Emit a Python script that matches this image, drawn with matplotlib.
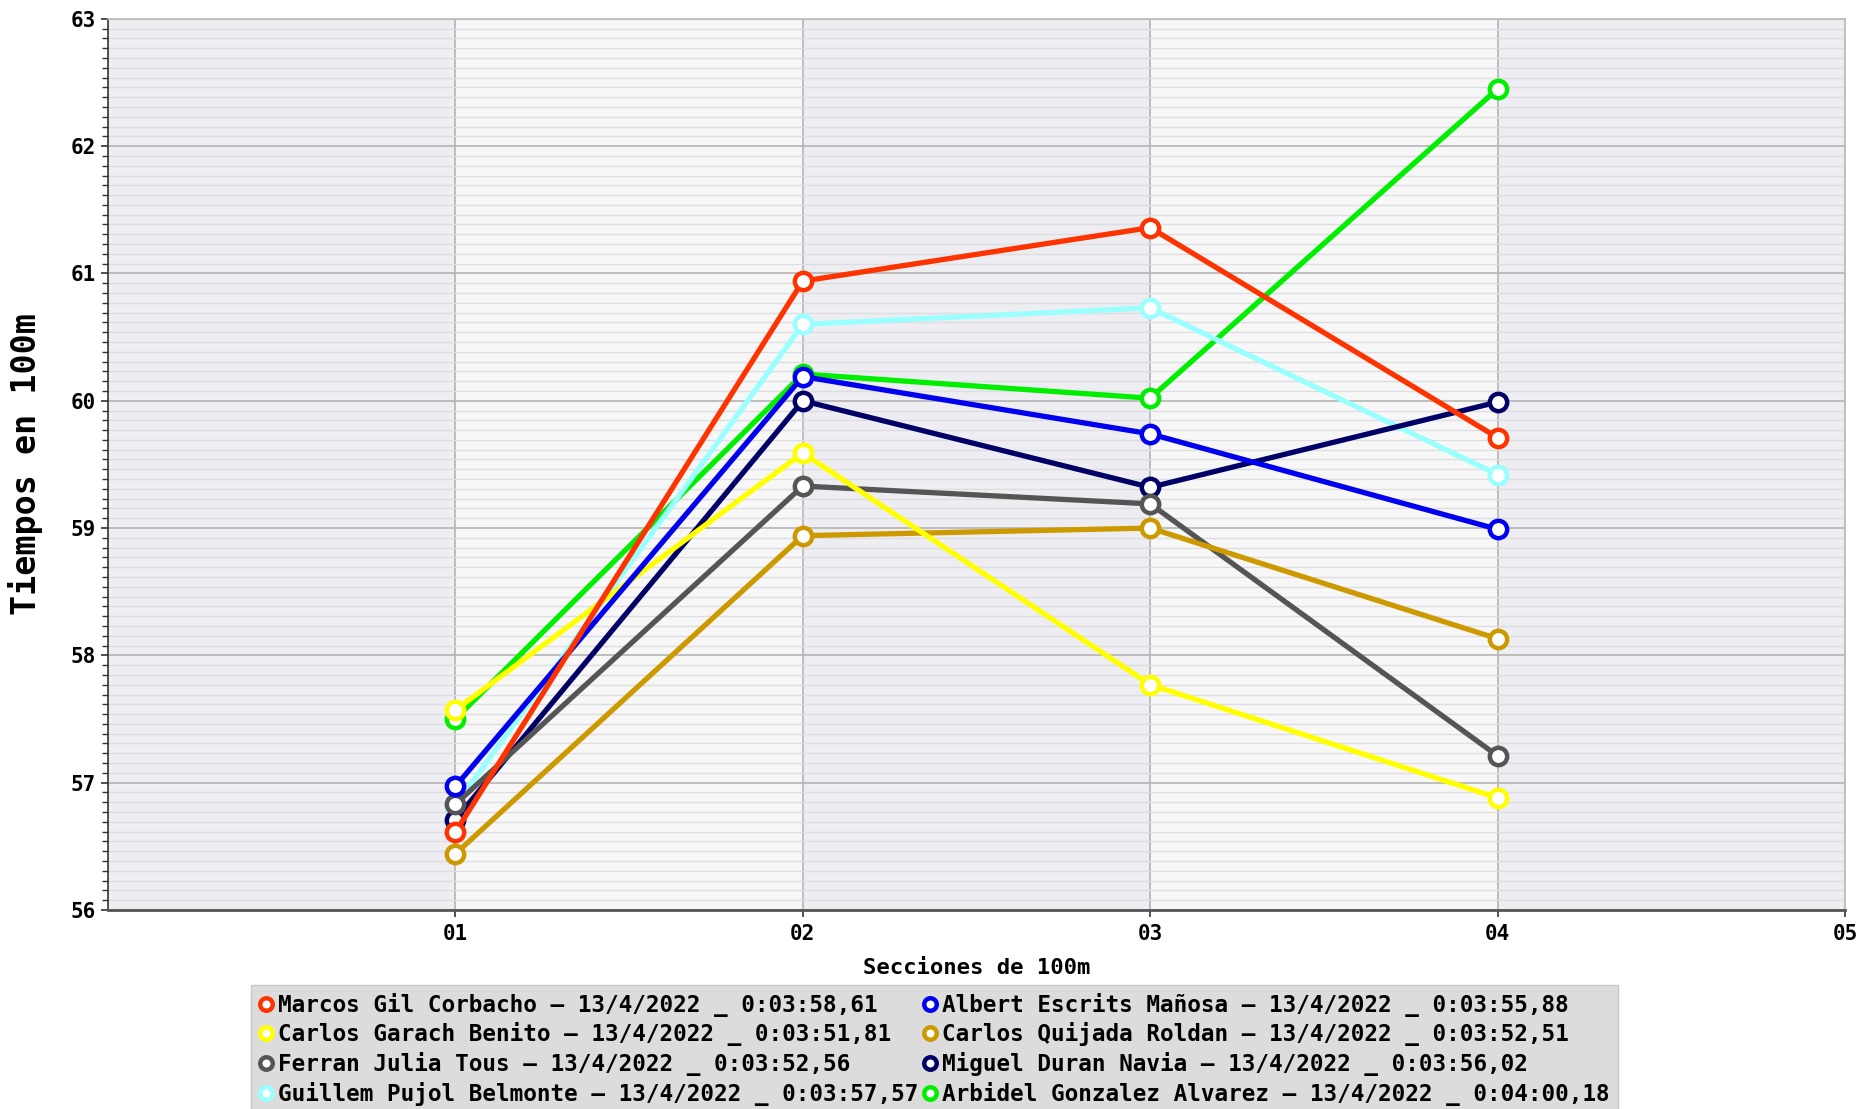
import numpy as np
import matplotlib.pyplot as plt
from matplotlib.lines import Line2D
from matplotlib.ticker import AutoMinorLocator

plt.rcParams['font.family'] = ['DejaVu Sans Mono', 'DejaVu Sans']
plt.rcParams['font.weight'] = 'bold'

sections = [1, 2, 3, 4]
section_labels = ['01', '02', '03', '04', '05']

# legend order (column-major in a 2-column legend)
names = [
    'Marcos Gil Corbacho – 13/4/2022 _ 0:03:58,61',
    'Carlos Garach Benito – 13/4/2022 _ 0:03:51,81',
    'Ferran Julia Tous – 13/4/2022 _ 0:03:52,56',
    'Guillem Pujol Belmonte – 13/4/2022 _ 0:03:57,57',
    'Albert Escrits Mañosa – 13/4/2022 _ 0:03:55,88',
    'Carlos Quijada Roldan – 13/4/2022 _ 0:03:52,51',
    'Miguel Duran Navia – 13/4/2022 _ 0:03:56,02',
    'Arbidel Gonzalez Alvarez – 13/4/2022 _ 0:04:00,18',
]
colors = ['#ff3300', '#ffff00', '#555555', '#99ffff',
          '#0000ee', '#cc9900', '#000066', '#00ee00']

marcos = [56.61, 60.94, 61.36, 59.71]
garach = [57.57, 59.59, 57.77, 56.88]
ferran = [56.83, 59.33, 59.19, 57.21]
guillem = [56.82, 60.60, 60.73, 59.42]
albert = [56.97, 60.19, 59.74, 58.99]
quijada = [56.44, 58.94, 59.00, 58.13]
miguel = [56.71, 60.00, 59.32, 59.99]
arbidel = [57.50, 60.21, 60.02, 62.45]
series = [marcos, garach, ferran, guillem, albert, quijada, miguel, arbidel]

# drawing order: original series order, last on top
draw_order = [7, 3, 6, 2, 5, 1, 4, 0]

fig = plt.figure(figsize=(18.6, 11.09), dpi=100)
ax = fig.add_axes([0.058, 0.1795, 0.934, 0.8035])

# alternating vertical bands
for i in range(5):
    ax.axvspan(i, i + 1, color='#eeeef2' if i % 2 == 0 else '#f7f7f7', zorder=0, lw=0)

ax.set_xlim(0, 5)
ax.set_ylim(56, 63)
ax.set_xticks([1, 2, 3, 4, 5])
ax.set_xticklabels(section_labels)
ax.set_yticks(np.arange(56, 64, 1))
ax.yaxis.set_minor_locator(AutoMinorLocator(13))
ax.grid(True, which='major', color='#b4b4b4', lw=1.2, zorder=1)
ax.grid(True, which='minor', axis='y', color='#dedee2', lw=1.0, zorder=1)
ax.set_axisbelow(True)

ax.tick_params(axis='both', which='major', labelsize=15, length=5, width=1.2, color='#333333')
ax.tick_params(axis='y', which='minor', length=4, width=1, color='#333333')
for lab in ax.get_xticklabels() + ax.get_yticklabels():
    lab.set_fontweight('bold')
ax.tick_params(axis='x', pad=5)

for side in ['top', 'right']:
    ax.spines[side].set_color('#bbbbbb')
    ax.spines[side].set_linewidth(1.2)
ax.spines['left'].set_color('#333333')
ax.spines['bottom'].set_color('#555555')
ax.spines['left'].set_linewidth(1.2)
ax.spines['bottom'].set_linewidth(2)

for z, idx in enumerate(draw_order):
    ax.plot(sections, series[idx], color=colors[idx], lw=3.8, marker='o',
            markersize=12.5, markerfacecolor='white', markeredgecolor=colors[idx],
            markeredgewidth=3.2, zorder=3 + z, solid_capstyle='round')

ax.set_xlabel('Secciones de 100m', fontsize=16, fontweight='bold', labelpad=10)
ax.set_ylabel('Tiempos en 100m', fontsize=24, fontweight='bold', labelpad=20)

handles = [Line2D([], [], ls='none', marker='o', markersize=9, markerfacecolor='white',
                  markeredgecolor=c, markeredgewidth=3.2) for c in colors]
leg = fig.legend(handles, names, loc='lower left', bbox_to_anchor=(0.135, -0.004),
                 ncol=2, fontsize=16.3, frameon=True, fancybox=False,
                 handlelength=0.6, handletextpad=0.25, columnspacing=0.2,
                 labelspacing=0.25, borderpad=0.35, borderaxespad=0)
leg.get_frame().set_facecolor('#dcdcdc')
leg.get_frame().set_edgecolor('#c8c8c8')
leg.get_frame().set_alpha(1)
for t in leg.get_texts():
    t.set_fontweight('bold')

fig.savefig('out.png', dpi=100)
